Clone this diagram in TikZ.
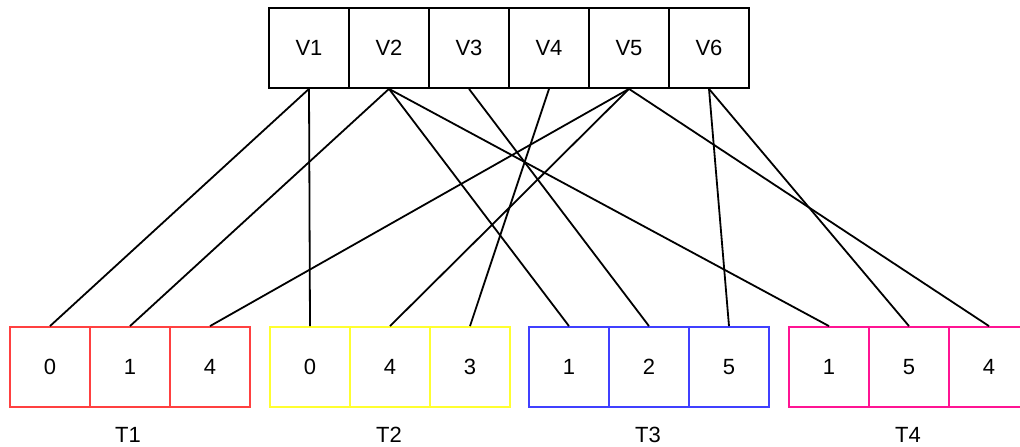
\documentclass[tikz,border=0pt]{standalone}
\usepackage{fontspec}
\setmainfont{Liberation Sans}
\definecolor{tred}{HTML}{FF4040}
\definecolor{tyel}{HTML}{FFFF30}
\definecolor{tblu}{HTML}{4040FF}
\definecolor{tpink}{HTML}{FF1493}
\begin{document}
\begin{tikzpicture}[x=1pt,y=-1pt,
  cell/.style={draw,line width=1.8pt,minimum width=80pt,minimum height=80pt,inner sep=0pt,font=\fontsize{22}{25}\selectfont},
  vcell/.style={cell,draw=black},
  lbl/.style={font=\fontsize{22}{25}\selectfont,inner sep=0pt},
  edge/.style={draw=black,line width=1.8pt}]
\useasboundingbox (0,0) rectangle (1020,447);
\fill[white] (0,0) rectangle (1020,447);
% top row
\foreach \i in {1,...,6}{
  \node[vcell] (V\i) at ({309+80*(\i-1)},48) {V\i};
}
% T1
\node[cell,draw=tred] (a0) at (50,367) {0};
\node[cell,draw=tred] (a1) at (130,367) {1};
\node[cell,draw=tred] (a4) at (210,367) {4};
% T2
\node[cell,draw=tyel] (b0) at (310,367) {0};
\node[cell,draw=tyel] (b4) at (390,367) {4};
\node[cell,draw=tyel] (b3) at (470,367) {3};
% T3
\node[cell,draw=tblu] (c1) at (569,367) {1};
\node[cell,draw=tblu] (c2) at (649,367) {2};
\node[cell,draw=tblu] (c5) at (729,367) {5};
% T4
\node[cell,draw=tpink] (d1) at (829,367) {1};
\node[cell,draw=tpink] (d5) at (909,367) {5};
\node[cell,draw=tpink] (d4) at (989,367) {4};
% labels
\node[lbl] (l1) at (128,435) {T1};
\node[lbl] (l2) at (389,435) {T2};
\node[lbl] (l3) at (648,435) {T3};
\node[lbl] (l4) at (908,435) {T4};
% edges
\draw[edge] (V1.south) -- (a0.north);
\draw[edge] (V1.south) -- (b0.north);
\draw[edge] (V2.south) -- (a1.north);
\draw[edge] (V2.south) -- (c1.north);
\draw[edge] (V2.south) -- (d1.north);
\draw[edge] (V3.south) -- (c2.north);
\draw[edge] (V4.south) -- (b3.north);
\draw[edge] (V5.south) -- (a4.north);
\draw[edge] (V5.south) -- (b4.north);
\draw[edge] (V5.south) -- (d4.north);
\draw[edge] (V6.south) -- (c5.north);
\draw[edge] (V6.south) -- (d5.north);
\end{tikzpicture}
\end{document}
